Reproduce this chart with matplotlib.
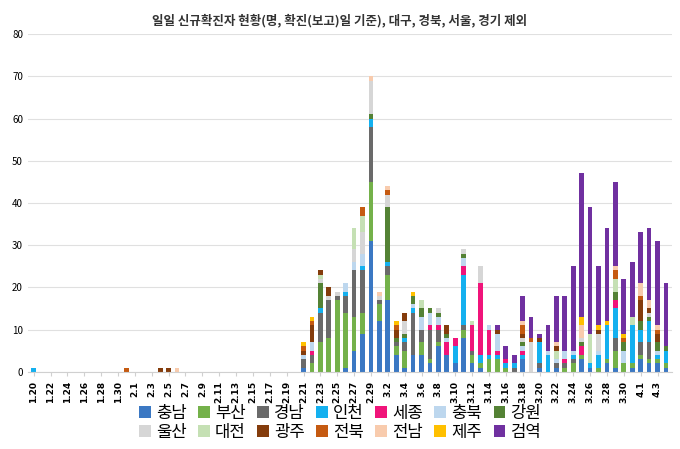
import datetime as dt
import numpy as np
import matplotlib.pyplot as plt

plt.rcParams['font.family'] = ['Noto Sans CJK JP', 'Noto Sans CJK KR', 'DejaVu Sans']

start = dt.date(2020, 1, 20)
days = [start + dt.timedelta(d) for d in range(76)]
keys = [f'{d.month}.{d.day}' for d in days]

regions = ['충남', '부산', '경남', '인천', '세종', '충북', '강원',
           '울산', '대전', '광주', '전북', '전남', '제주', '검역']
colors = ['#3b78c3', '#74b14a', '#6a6a6a', '#14b0ef', '#f0147a', '#bdd7ee', '#548235',
          '#d6d6d6', '#c5e0b4', '#843c0c', '#c55a11', '#f8cbad', '#ffc000', '#7030a0']

# nonzero daily counts per region
chungnam = {'2.21': 1, '2.26': 1, '2.27': 5, '2.28': 9, '2.29': 31, '3.1': 12, '3.2': 17, '3.3': 4,
            '3.4': 1, '3.5': 4, '3.6': 4, '3.7': 2, '3.8': 6, '3.9': 4, '3.10': 2, '3.11': 8, '3.12': 2,
            '3.13': 1, '3.18': 3, '3.20': 1, '3.22': 1, '3.25': 3, '3.26': 1, '3.28': 2, '3.29': 1,
            '3.31': 1, '4.1': 3, '4.2': 2, '4.3': 2, '4.4': 1}
busan = {'2.22': 2, '2.23': 7, '2.24': 8, '2.25': 17, '2.26': 13, '2.27': 8, '2.28': 5, '2.29': 14,
         '3.1': 4, '3.2': 6, '3.3': 2, '3.4': 4, '3.6': 3, '3.7': 1, '3.8': 1, '3.11': 2, '3.12': 2,
         '3.13': 1, '3.14': 3, '3.15': 3, '3.16': 1, '3.23': 1, '3.24': 2, '3.25': 1, '3.27': 1,
         '3.28': 1, '3.29': 4, '3.30': 2, '3.31': 1, '4.1': 1, '4.2': 1, '4.3': 1, '4.4': 1}
gyeongnam = {'2.21': 2, '2.22': 2, '2.23': 7, '2.24': 9, '2.25': 1, '2.26': 4, '2.27': 11, '2.28': 10,
             '2.29': 13, '3.1': 1, '3.2': 2, '3.3': 1, '3.4': 2, '3.5': 10, '3.6': 3, '3.7': 7, '3.8': 3,
             '3.11': 1, '3.12': 1, '3.17': 1, '3.20': 1, '3.22': 1, '3.23': 1, '3.24': 1, '3.29': 3,
             '4.1': 3, '4.2': 4}
incheon = {'1.20': 1, '2.23': 1, '2.26': 1, '2.28': 1, '2.29': 2, '3.2': 1, '3.4': 1, '3.5': 1,
           '3.10': 4, '3.11': 12, '3.13': 2, '3.14': 1, '3.15': 1, '3.16': 1, '3.17': 1, '3.18': 1,
           '3.20': 5, '3.21': 4, '3.24': 1, '3.26': 1, '3.27': 3, '3.28': 8, '3.29': 7, '3.31': 9,
           '4.1': 3, '4.2': 5, '4.3': 1, '4.4': 3}
sejong = {'2.22': 1, '3.7': 1, '3.8': 1, '3.9': 3, '3.10': 2, '3.11': 2, '3.12': 6, '3.13': 17,
          '3.14': 6, '3.15': 1, '3.16': 1, '3.18': 1, '3.23': 1, '3.25': 2, '3.29': 2}
chungbuk = {'2.21': 1, '2.22': 2, '2.26': 2, '2.27': 2, '2.28': 3, '3.5': 1, '3.6': 3, '3.7': 3,
            '3.8': 2, '3.9': 1, '3.11': 2, '3.14': 1, '3.15': 4, '3.18': 1, '3.21': 1, '3.22': 1,
            '3.23': 2, '3.24': 1, '3.27': 1, '3.30': 3, '4.3': 1}
gangwon = {'2.23': 6, '2.29': 1, '3.2': 13, '3.3': 1, '3.4': 1, '3.5': 2, '3.6': 2, '3.7': 1,
           '3.8': 1, '3.9': 1, '3.11': 1, '3.18': 1, '3.25': 1, '3.29': 2, '3.30': 2, '4.1': 2,
           '4.2': 1, '4.3': 2, '4.4': 1}
ulsan = {'2.23': 1, '2.24': 1, '2.25': 1, '2.27': 3, '2.28': 5, '2.29': 8, '3.1': 1, '3.2': 3,
         '3.4': 3, '3.8': 1, '3.11': 1, '3.13': 4, '3.18': 1, '3.19': 7, '3.25': 1, '3.27': 4, '4.2': 1}
daejeon = {'2.23': 1, '2.27': 5, '2.28': 4, '3.6': 2, '3.12': 1, '3.22': 2, '3.26': 7, '3.29': 3,
           '3.31': 2}
gwangju = {'2.4': 1, '2.5': 1, '2.21': 1, '2.22': 4, '2.23': 1, '2.24': 2, '3.3': 2, '3.4': 2,
           '3.9': 2, '3.15': 1, '3.18': 1, '3.20': 1, '3.22': 1, '3.27': 1, '4.1': 5, '4.2': 1, '4.3': 2}
jeonbuk = {'1.31': 1, '2.21': 1, '2.22': 1, '2.28': 2, '3.2': 1, '3.3': 1, '3.18': 2, '3.19': 1,
           '3.29': 2, '3.30': 1, '4.1': 1, '4.3': 1}
jeonnam = {'2.6': 1, '2.29': 1, '3.1': 1, '3.2': 1, '3.18': 1, '3.22': 1, '3.25': 3, '3.29': 1,
           '4.1': 3, '4.2': 2, '4.3': 1}
jeju = {'2.21': 1, '2.22': 1, '3.3': 1, '3.5': 1, '3.25': 2, '3.27': 1, '3.28': 1, '3.30': 1}
quarantine = {'3.15': 1, '3.16': 3, '3.17': 2, '3.18': 6, '3.19': 5, '3.20': 1, '3.21': 6,
              '3.22': 11, '3.23': 13, '3.24': 20, '3.25': 34, '3.26': 30, '3.27': 14, '3.28': 22,
              '3.29': 20, '3.30': 13, '3.31': 13, '4.1': 12, '4.2': 17, '4.3': 20, '4.4': 15}

series = [chungnam, busan, gyeongnam, incheon, sejong, chungbuk, gangwon,
          ulsan, daejeon, gwangju, jeonbuk, jeonnam, jeju, quarantine]

fig = plt.figure(figsize=(6.8, 4.49), dpi=100)
ax = fig.add_axes([0.041, 0.172, 0.947, 0.752])
x = np.arange(len(keys))
bottom = np.zeros(len(keys))
handles = []
for name, col, s in zip(regions, colors, series):
    vals = np.array([s.get(k, 0) for k in keys], dtype=float)
    handles.append(ax.bar(x, vals, 0.55, bottom=bottom, color=col, label=name))
    bottom += vals

ax.set_xlim(-0.7, len(keys) - 0.3)
ax.set_ylim(0, 80)
ax.set_yticks(range(0, 81, 10))
ax.set_xticks(x[::2])
ax.set_xticklabels(keys[::2], rotation=90, fontsize=6.5, fontweight='bold', family='DejaVu Sans')
ax.tick_params(axis='y', labelsize=7, length=0)
ax.tick_params(axis='x', length=3, color='#d0d0d0')
ax.grid(axis='y', color='#e0e0e0', lw=0.8)
ax.set_axisbelow(True)
for sp in ['top', 'right', 'left']:
    ax.spines[sp].set_visible(False)
ax.spines['bottom'].set_color('#d0d0d0')
fig.text(0.5, 0.955, '일일 신규확진자 현황(명, 확진(보고)일 기준), 대구, 경북, 서울, 경기 제외',
         ha='center', va='center', fontsize=9, fontweight='bold', color='#333333')

# legend fills row by row like the original
order = [i for c in range(7) for i in (c, c + 7)]
fig.legend([handles[i] for i in order], [regions[i] for i in order],
           loc='lower center', bbox_to_anchor=(0.5, -0.015), ncol=7, frameon=False,
           fontsize=12, handlelength=0.7, handleheight=0.7, handletextpad=0.3, columnspacing=0.7,
           labelspacing=0.1)
fig.savefig('out.png')
